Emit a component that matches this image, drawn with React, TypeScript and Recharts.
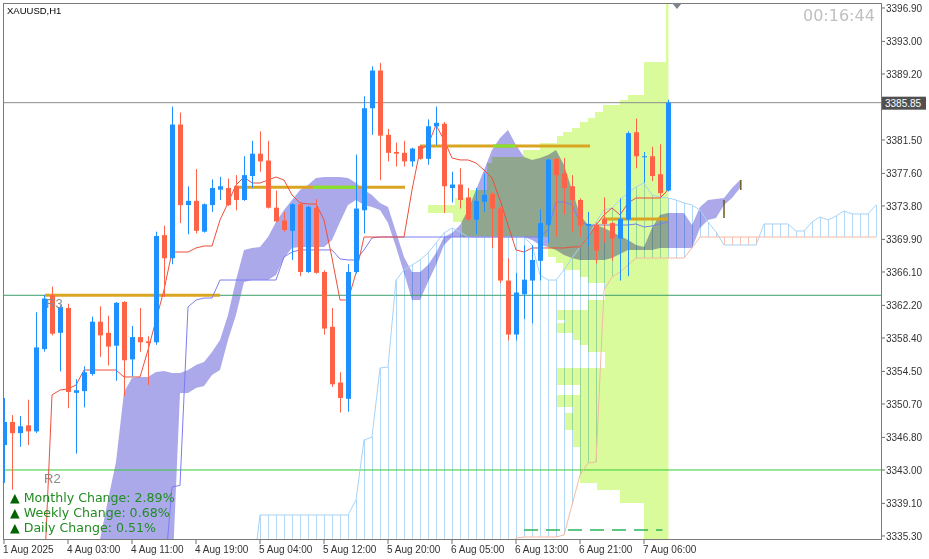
import {
  Area,
  Bar,
  ComposedChart,
  Line,
  ReferenceArea,
  ReferenceLine,
  XAxis,
  YAxis,
} from 'recharts'

const WIDTH = 929
const HEIGHT = 559
const X_MIN = -0.125
const X_MAX = 109.625
const Y_MIN = 3334.83
const Y_MAX = 3397.48
const OFF = 3330 // below the visible price range
const CURRENT = 3385.85
const FUTURE_BARS = 26

const BULL = '#1e90ff'
const BEAR = '#ff6347'

// H1 candles, 1 Aug 18:00 .. 7 Aug 09:00
const opens = [
  3345.9, 3348.6, 3347.3, 3348.2, 3347.5, 3357.1, 3363.4, 3359.0, 3361.9, 3352.0,
  3352.2, 3354.2, 3360.3, 3359.0, 3357.5, 3362.6, 3355.9, 3358.5, 3358.0, 3357.9,
  3370.4, 3367.7, 3383.3, 3373.9, 3374.4, 3370.8, 3373.9, 3375.7, 3375.9, 3376.1,
  3374.5, 3377.3, 3379.9, 3379.1, 3373.6, 3372.1, 3370.9, 3374.0, 3366.1, 3373.6,
  3366.1, 3359.7, 3353.2, 3351.3, 3366.1, 3373.3, 3385.2, 3389.6, 3382.1, 3380.1,
  3380.0, 3379.0, 3380.8, 3379.3, 3383.1, 3383.4, 3375.9, 3376.3, 3374.8, 3372.2,
  3374.3, 3375.2, 3373.5, 3365.1, 3358.8, 3363.5, 3365.1, 3367.4, 3371.6, 3379.3,
  3377.6, 3376.1, 3374.5, 3371.5, 3371.6, 3372.3, 3371.8, 3370.0, 3372.2, 3382.4,
  3379.5, 3379.6, 3377.5, 3375.6,
]
const highs = [
  3351.4, 3349.4, 3349.3, 3351.2, 3361.4, 3363.4, 3364.4, 3362.2, 3362.4, 3353.6,
  3355.1, 3360.9, 3362.1, 3361.0, 3362.6, 3362.7, 3359.8, 3361.9, 3358.6, 3370.8,
  3371.5, 3385.4, 3384.7, 3376.1, 3378.1, 3374.1, 3376.9, 3377.2, 3377.0, 3377.4,
  3379.6, 3381.4, 3382.5, 3381.4, 3375.6, 3373.1, 3374.1, 3374.2, 3373.8, 3374.6,
  3366.3, 3361.9, 3354.4, 3367.0, 3379.8, 3386.6, 3390.1, 3390.5, 3382.8, 3381.2,
  3381.4, 3380.6, 3380.9, 3383.9, 3385.4, 3383.6, 3377.8, 3378.2, 3375.9, 3375.9,
  3377.6, 3375.4, 3373.7, 3367.7, 3366.0, 3369.2, 3369.2, 3373.4, 3379.3, 3379.4,
  3379.4, 3377.4, 3374.7, 3373.1, 3371.8, 3374.8, 3371.9, 3374.7, 3382.5, 3384.0,
  3380.1, 3380.7, 3381.0, 3386.2,
]
const lows = [
  3341.5, 3340.7, 3345.7, 3345.9, 3347.3, 3356.8, 3358.7, 3354.5, 3350.2, 3344.9,
  3350.3, 3354.0, 3356.2, 3355.2, 3353.4, 3351.6, 3353.9, 3356.8, 3352.9, 3357.6,
  3363.2, 3367.0, 3371.8, 3370.5, 3370.6, 3370.7, 3373.1, 3374.5, 3373.8, 3373.3,
  3374.4, 3375.9, 3377.8, 3373.5, 3371.9, 3370.8, 3367.5, 3365.6, 3366.0, 3365.9,
  3358.8, 3352.7, 3349.7, 3349.8, 3365.9, 3370.6, 3382.1, 3376.8, 3379.0, 3378.4,
  3378.4, 3378.4, 3379.2, 3378.6, 3380.9, 3373.0, 3374.2, 3373.5, 3372.1, 3370.5,
  3373.1, 3368.9, 3364.8, 3358.1, 3358.1, 3360.6, 3360.1, 3365.1, 3369.5, 3370.2,
  3372.8, 3370.8, 3370.2, 3369.1, 3367.1, 3369.5, 3367.4, 3365.1, 3365.6, 3378.2,
  3376.5, 3376.7, 3374.9, 3375.5,
]
const closes = [
  3348.6, 3347.3, 3348.1, 3347.5, 3357.3, 3363.0, 3358.9, 3362.0, 3352.1, 3352.3,
  3354.4, 3360.3, 3358.7, 3357.4, 3362.5, 3355.8, 3358.5, 3357.9, 3357.8, 3370.3,
  3367.7, 3383.3, 3373.9, 3374.4, 3370.9, 3374.0, 3375.9, 3376.1, 3373.9, 3374.5,
  3377.4, 3379.9, 3379.0, 3373.6, 3372.0, 3371.0, 3374.0, 3366.1, 3373.7, 3366.0,
  3359.5, 3353.0, 3351.4, 3366.1, 3373.5, 3385.2, 3389.6, 3382.0, 3380.0, 3379.9,
  3379.0, 3380.5, 3379.3, 3383.1, 3383.5, 3376.1, 3376.3, 3374.5, 3372.2, 3374.4,
  3375.1, 3373.5, 3365.1, 3358.8, 3363.7, 3365.2, 3367.5, 3371.8, 3379.2, 3377.4,
  3375.9, 3374.5, 3371.5, 3371.7, 3368.6, 3371.7, 3370.0, 3372.3, 3382.3, 3379.6,
  3379.6, 3377.3, 3375.3, 3385.85,
]

const timeTickBars = [0, 8, 16, 24, 32, 40, 48, 56, 64, 72, 80]
const timeLabels = [
  '1 Aug 2025', '4 Aug 03:00', '4 Aug 11:00', '4 Aug 19:00', '5 Aug 04:00', '5 Aug 12:00',
  '5 Aug 20:00', '6 Aug 05:00', '6 Aug 13:00', '6 Aug 21:00', '7 Aug 06:00',
]
const priceTicks = [
  3396.9, 3393.0, 3389.2, 3381.5, 3377.6, 3373.8, 3369.9, 3366.1, 3362.2, 3358.4,
  3354.5, 3350.7, 3346.8, 3343.0, 3339.1, 3335.3,
]

// tenkan starts at bar 5
const TENKAN_FROM = 5
const tenkan = [
  OFF, 3351.75, 3352.33, 3352.45, 3352.91, 3354.66, 3354.66, 3354.66, 3354.66, 3354.66,
  3353.85, 3353.85, 3353.85, 3357.0, 3360.49, 3364.0, 3368.43, 3368.43, 3368.43, 3368.9,
  3369.13, 3369.13, 3372.17, 3374.15, 3376.25, 3377.18, 3376.48, 3376.48, 3376.83, 3377.18,
  3376.83, 3375.08, 3374.15, 3374.03, 3374.03, 3372.17, 3367.73, 3362.83, 3362.83, 3365.98,
  3370.18, 3370.18, 3370.18, 3370.18, 3370.18, 3370.18, 3375.67, 3380.33, 3380.92, 3383.25,
  3381.5, 3379.4, 3379.17, 3379.17, 3378.82, 3378.0, 3377.07, 3374.5, 3371.58, 3368.67,
  3368.43, 3368.9, 3368.9, 3368.9, 3368.9, 3368.9, 3369.02, 3369.02, 3370.18, 3371.58,
  3372.75, 3373.57, 3372.75, 3374.15, 3374.73, 3374.73, 3374.73, 3374.73, 3375.67,
]

// kijun starts at bar 20
const KIJUN_FROM = 20
const kijun = [
  OFF, 3341.01, 3341.2, 3362.02, 3362.83, 3363.06, 3363.06, 3365.16, 3365.16, 3365.16,
  3365.16, 3365.16, 3365.16, 3365.16, 3365.16, 3367.85, 3368.43, 3368.67, 3368.67, 3368.67,
  3368.67, 3368.67, 3367.62, 3367.5, 3367.5, 3368.67, 3370.07, 3370.18, 3370.18, 3370.18,
  3370.18, 3370.18, 3370.18, 3370.18, 3370.18, 3370.18, 3370.18, 3370.18, 3370.18, 3370.18,
  3370.18, 3370.18, 3370.18, 3370.18, 3370.18, 3370.18, 3370.18, 3370.18, 3371.0, 3374.27,
  3374.27, 3373.92, 3371.93, 3371.58, 3371.58, 3371.58, 3371.58, 3371.58, 3371.58, 3371.7,
  3371.35, 3371.47, 3371.7, 3371.93,
]

// senkou span A starts at bar 31, span B at bar 63 (earlier values lie below the chart)
const SPAN_A_FROM = 31
const spanA = [
  OFF, 3337.75, 3337.75, 3337.75, 3337.75, 3337.75, 3337.75, 3337.75, 3337.75, 3337.75,
  3337.75, 3337.75, 3337.75, 3339.5, 3346.5, 3346.85, 3354.9, 3355.01, 3365.16, 3366.33,
  3366.91, 3367.5, 3368.31, 3369.48, 3370.65, 3371.23, 3370.77, 3370.18, 3370.18, 3370.18,
  3370.18, 3370.18, 3370.18, 3370.18, 3370.18, 3369.25, 3365.75, 3365.16, 3365.16, 3366.33,
  3367.73, 3369.02, 3370.18, 3371.93, 3373.33, 3373.57, 3374.5, 3375.32, 3376.02, 3376.48,
  3375.08, 3374.85, 3374.73, 3374.5, 3374.15, 3373.92, 3373.33, 3371.93, 3370.77, 3369.25,
  3369.25, 3369.25, 3369.25, 3369.25, 3371.7, 3371.7, 3371.7, 3371.7, 3370.88, 3370.88,
  3371.93, 3372.52, 3372.17, 3372.63, 3373.22, 3372.87, 3372.87, 3372.87, 3373.92,
]
const SPAN_B_FROM = 63
const spanB = [
  OFF, 3335.06, 3335.18, 3335.18, 3335.18, 3335.18, 3335.18, 3335.41, 3338.91, 3342.41,
  3343.81, 3343.93, 3364.0, 3365.52, 3366.1, 3366.91, 3367.73, 3367.73, 3367.73, 3367.73,
  3367.73, 3367.73, 3367.73, 3368.9, 3370.18, 3370.18, 3370.18, 3370.18, 3370.18, 3370.18,
  3370.18, 3370.18, 3370.18, 3370.18, 3370.18, 3370.18, 3370.18, 3370.18, 3370.18, 3370.18,
  3370.18, 3370.18, 3370.18, 3370.18, 3370.18, 3370.18, 3370.18,
]

// lavender cloud band, bars 12..92
const CLOUD_FROM = 12
const cloudTop = [
  3334.9, 3339.5, 3343.93, 3352.1, 3353.73, 3353.85, 3353.85, 3354.43, 3354.55, 3354.31,
  3354.31, 3354.66, 3355.25, 3355.6, 3356.77, 3358.16, 3361.08, 3365.16, 3368.67, 3368.9,
  3369.02, 3370.18, 3371.93, 3373.33, 3374.5, 3375.67, 3376.25, 3377.07, 3377.18, 3377.18,
  3377.18, 3377.07, 3376.48, 3375.67, 3375.08, 3374.15, 3373.68, 3370.77, 3367.85, 3366.1,
  3366.1, 3366.91, 3368.31, 3370.18, 3370.65, 3371.58, 3373.33, 3375.67, 3378.0, 3380.33,
  3381.73, 3382.66, 3380.92, 3379.52, 3379.17, 3379.4, 3379.75, 3380.33, 3378.58, 3375.67,
  3372.75, 3371.58, 3371.58, 3371.23, 3370.77, 3370.3, 3369.83, 3369.25, 3369.02, 3371.23,
  3372.75, 3372.98, 3372.98, 3372.98, 3371.58, 3373.68, 3374.5, 3374.62, 3374.73, 3375.9,
  3376.83,
]
const cloudBottom = [
  OFF, OFF, OFF, OFF, OFF, OFF, OFF, OFF, OFF, OFF,
  3351.98, 3351.98, 3352.56, 3352.8, 3354.08, 3354.66, 3358.16, 3361.08, 3364.93, 3365.16,
  3365.16, 3365.16, 3365.75, 3367.73, 3368.9, 3369.02, 3369.02, 3369.02, 3369.02, 3369.83,
  3371.93, 3373.92, 3374.5, 3373.92, 3373.68, 3373.33, 3371.82, 3369.02, 3365.98, 3362.83,
  3362.83, 3364.93, 3366.91, 3369.25, 3370.18, 3370.18, 3370.18, 3370.18, 3370.18, 3370.18,
  3370.18, 3370.18, 3370.18, 3370.18, 3369.83, 3369.25, 3369.02, 3368.67, 3368.08, 3367.73,
  3367.5, 3367.5, 3367.5, 3367.5, 3367.73, 3368.2, 3368.67, 3368.67, 3368.67, 3368.67,
  3368.9, 3368.9, 3368.9, 3368.9, 3368.9, 3371.23, 3372.17, 3372.4, 3373.92, 3374.73,
  3375.9,
]

// volume profile: price edges (top to bottom) and the bar where each row starts
const profileEdges = [
  3397.48, 3390.6, 3386.75, 3386.17, 3385.58, 3384.77, 3384.07, 3383.6, 3382.9, 3382.43,
  3381.97, 3381.15, 3380.33, 3379.52, 3378.82, 3375.67, 3374.73, 3373.92, 3372.98, 3371.93,
  3370.18, 3367.85, 3367.15, 3366.33, 3365.52, 3364.81, 3362.83, 3361.66, 3360.49, 3360.15,
  3358.98, 3358.16, 3357.58, 3356.77, 3354.9, 3352.91, 3351.75, 3350.35, 3349.65, 3347.66,
  3345.68, 3341.48, 3340.66, 3339.15, 3334.83,
]
const profileStart = [
  82.75, 80, 78, 77, 74.875, 73.875, 73, 72, 71, 69.875,
  69.125, 67, 64.875, 61, 60.375, 58.25, 56.375, 53, 56.125, 57.25,
  68, 69, 69.875, 72, 73, 75.125, 73, 69.125, 70.125, 69.125,
  71.125, 72, 73, 75.125, 69.125, 72, 69.125, 71.125, 70.125, 71.125,
  72, 74.125, 77, 80,
]
const PROFILE_END = 83.06

const changeLabels = ['Monthly Change: 2.89%', 'Weekly Change: 0.68%', 'Daily Change: 0.51%']

const chartData = Array.from({ length: opens.length + FUTURE_BARS }, (_, i) => {
  const row: Record<string, unknown> = { i }
  if (i < opens.length) {
    row.o = opens[i]
    row.h = highs[i]
    row.l = lows[i]
    row.c = closes[i]
    row.range = [lows[i], highs[i]]
  }
  const t = tenkan[i - TENKAN_FROM]
  if (t !== undefined) row.tenkan = t
  const k = kijun[i - KIJUN_FROM]
  if (k !== undefined) row.kijun = k
  const a = spanA[i - SPAN_A_FROM]
  const b = spanB[i - SPAN_B_FROM]
  if (a !== undefined) row.spanA = a
  if (b !== undefined) row.spanB = b
  if (a !== undefined && a > OFF) {
    const lo = b ?? OFF
    row.hatch = [Math.min(a, lo), Math.max(a, lo)]
    row.up = a >= lo
  }
  const ct = cloudTop[i - CLOUD_FROM]
  if (ct !== undefined) row.cloud = [cloudBottom[i - CLOUD_FROM], ct]
  return row
})

function Candle(props: any) {
  const { x, y, width, height, payload } = props
  if (!payload || payload.o == null || height == null) return <g />
  const { o, h, l, c } = payload
  const ppu = height / (h - l || 1)
  const cx = Math.round(x + width / 2)
  const top = y + (h - Math.max(o, c)) * ppu
  const bot = y + (h - Math.min(o, c)) * ppu
  const color = c >= o ? BULL : BEAR
  return (
    <g>
      <line x1={cx + 0.5} x2={cx + 0.5} y1={y} y2={y + height} stroke={color} strokeWidth={1} />
      <rect x={cx - 2} y={top} width={5} height={Math.max(1, bot - top)} fill={color} />
    </g>
  )
}

function Hatch(props: any) {
  const { x, y, width, height, payload } = props
  if (!payload || !payload.hatch || height == null) return <g />
  const cx = Math.round(x + width / 2) + 0.5
  return (
    <line x1={cx} x2={cx} y1={y} y2={y + height} stroke={payload.up ? '#b3d8f6' : '#f6c3ae'} strokeWidth={1} />
  )
}

function TimeTick(props: any) {
  const { x, y, payload } = props
  const label = timeLabels[timeTickBars.indexOf(payload.value)]
  return (
    <text x={x - 1} y={y} dy="0.71em" textAnchor="start" fontSize={10} fill="#333">
      {label}
    </text>
  )
}

function PriceTag(props: any) {
  const { viewBox } = props
  if (!viewBox) return null
  const right = viewBox.x + viewBox.width
  return (
    <g>
      <rect x={right + 1} y={viewBox.y - 6} width={44} height={13} fill="#505050" />
      <text x={right + 4} y={viewBox.y + 4} fontSize={10} fill="#fff">
        {CURRENT.toFixed(2)}
      </text>
    </g>
  )
}

const gold = '#daa520'
const lime = '#84e32c'

export default function App() {
  return (
    <div
      style={{
        position: 'absolute',
        left: 0,
        top: 0,
        width: WIDTH,
        height: HEIGHT,
        background: '#fff',
        fontFamily: '"Liberation Sans", Arial, sans-serif',
        overflow: 'hidden',
      }}
    >
      <style>{`.cloud, .vp { mix-blend-mode: multiply; }`}</style>
      <ComposedChart
        width={WIDTH}
        height={HEIGHT}
        data={chartData}
        margin={{ top: 3, right: 0, bottom: 0, left: 3 }}
        style={{ fontFamily: '"Liberation Sans", Arial, sans-serif' }}
      >
        <XAxis
          type="number"
          dataKey="i"
          domain={[X_MIN, X_MAX]}
          allowDataOverflow
          ticks={timeTickBars}
          tick={<TimeTick />}
          tickSize={4}
          tickMargin={2}
          tickLine={{ stroke: '#6e6e6e' }}
          axisLine={false}
          height={19}
          interval={0}
        />
        <XAxis xAxisId="hatch" type="number" dataKey="i" domain={[X_MIN, X_MAX]} allowDataOverflow hide />
        <YAxis
          orientation="right"
          domain={[Y_MIN, Y_MAX]}
          allowDataOverflow
          ticks={priceTicks}
          tickFormatter={(v: number) => v.toFixed(2)}
          tick={{ fontSize: 10, fill: '#333' }}
          tickSize={4}
          tickMargin={1}
          tickLine={{ stroke: '#6e6e6e' }}
          axisLine={false}
          width={48}
          interval={0}
        />

        <Bar
          xAxisId="hatch"
          dataKey="hatch"
          barSize={1}
          shape={<Hatch />}
          isAnimationActive={false}
          zIndex={50}
        />
        <Area
          dataKey="cloud"
          className="cloud"
          type="linear"
          stroke="none"
          fill="#aba9ea"
          fillOpacity={1}
          isAnimationActive={false}
          zIndex={100}
        />
        {profileStart.map((from, r) => (
          <ReferenceArea
            key={`vp${r}`}
            className="vp"
            x1={from}
            x2={PROFILE_END}
            y1={profileEdges[r + 1]}
            y2={profileEdges[r]}
            fill="#d9fb9b"
            fillOpacity={1}
            stroke="none"
            ifOverflow="visible"
            zIndex={120}
          />
        ))}

        <ReferenceLine y={3363.38} stroke="#3c9f6c" ifOverflow="visible" />
        <ReferenceLine y={3343.0} stroke="#32cd32" ifOverflow="visible" />
        <ReferenceLine y={CURRENT} stroke="#8c8c8c" ifOverflow="visible" label={<PriceTag />} />

        <ReferenceLine segment={[{ x: 5.125, y: 3363.38 }, { x: 27, y: 3363.38 }]} stroke={gold} strokeWidth={3} ifOverflow="visible" />
        <ReferenceLine segment={[{ x: 29.125, y: 3375.98 }, { x: 50.125, y: 3375.98 }]} stroke={gold} strokeWidth={3} ifOverflow="visible" />
        <ReferenceLine segment={[{ x: 38.625, y: 3375.98 }, { x: 44.25, y: 3375.98 }]} stroke={lime} strokeWidth={3} ifOverflow="visible" />
        <ReferenceLine segment={[{ x: 52, y: 3380.8 }, { x: 73.25, y: 3380.8 }]} stroke={gold} strokeWidth={3} ifOverflow="visible" />
        <ReferenceLine segment={[{ x: 61.125, y: 3380.8 }, { x: 64, y: 3380.8 }]} stroke={lime} strokeWidth={3} ifOverflow="visible" />
        <ReferenceLine segment={[{ x: 74.875, y: 3372.28 }, { x: 83, y: 3372.28 }]} stroke={gold} strokeWidth={3} ifOverflow="visible" />
        <ReferenceLine segment={[{ x: 65, y: 3336.0 }, { x: 82.3, y: 3336.0 }]} stroke="#2db45a" strokeWidth={1.5} strokeDasharray="14 8" ifOverflow="visible" />
        <ReferenceLine segment={[{ x: 90, y: 3374.5 }, { x: 90, y: 3372.4 }]} stroke="#6b5a1e" strokeWidth={1.5} ifOverflow="visible" />
        <ReferenceLine segment={[{ x: 92.1, y: 3376.83 }, { x: 92.1, y: 3375.67 }]} stroke="#6b5a1e" strokeWidth={1.5} ifOverflow="visible" />

        <Line dataKey="spanA" stroke="#a9d2f3" strokeWidth={1} dot={false} isAnimationActive={false} />
        <Line dataKey="spanB" stroke="#f4b9a3" strokeWidth={1} dot={false} isAnimationActive={false} />
        <Line dataKey="kijun" stroke="#7c7cf2" strokeWidth={1} dot={false} isAnimationActive={false} />
        <Line dataKey="tenkan" stroke="#ee4f3a" strokeWidth={1} dot={false} isAnimationActive={false} />

        <Bar dataKey="range" barSize={5} shape={<Candle />} isAnimationActive={false} zIndex={450} />
      </ComposedChart>

      <div
        style={{
          position: 'absolute',
          left: 3,
          top: 3,
          width: 879,
          height: 537,
          border: '1px solid #7a7a7a',
          boxSizing: 'border-box',
          pointerEvents: 'none',
        }}
      />
      <div
        style={{
          position: 'absolute',
          left: 672,
          top: 3,
          width: 0,
          height: 0,
          borderLeft: '5px solid transparent',
          borderRight: '5px solid transparent',
          borderTop: '6px solid #7d848c',
        }}
      />
      <div style={{ position: 'absolute', left: 7, top: 6, fontSize: 9.5, lineHeight: '10px', color: '#000' }}>
        XAUUSD,H1
      </div>
      <div
        style={{
          position: 'absolute',
          left: 803,
          top: 8,
          fontSize: 16,
          lineHeight: '16px',
          color: '#c0c0c0',
          fontFamily: '"DejaVu Sans", sans-serif',
        }}
      >
        00:16:44
      </div>
      <div style={{ position: 'absolute', left: 46, top: 296, fontSize: 13, lineHeight: '15px', color: '#8a8a8a' }}>R3</div>
      <div style={{ position: 'absolute', left: 44, top: 471, fontSize: 13, lineHeight: '15px', color: '#8a8a8a' }}>R2</div>
      {changeLabels.map((txt, n) => (
        <div
          key={txt}
          style={{
            position: 'absolute',
            left: 10,
            top: 489.5 + n * 15,
            fontSize: 12.6,
            lineHeight: '15px',
            fontFamily: '"DejaVu Sans", sans-serif',
            color: '#218c21',
            whiteSpace: 'nowrap',
          }}
        >
          <span style={{ color: '#006400' }}>▲</span> {txt}
        </div>
      ))}
    </div>
  )
}
